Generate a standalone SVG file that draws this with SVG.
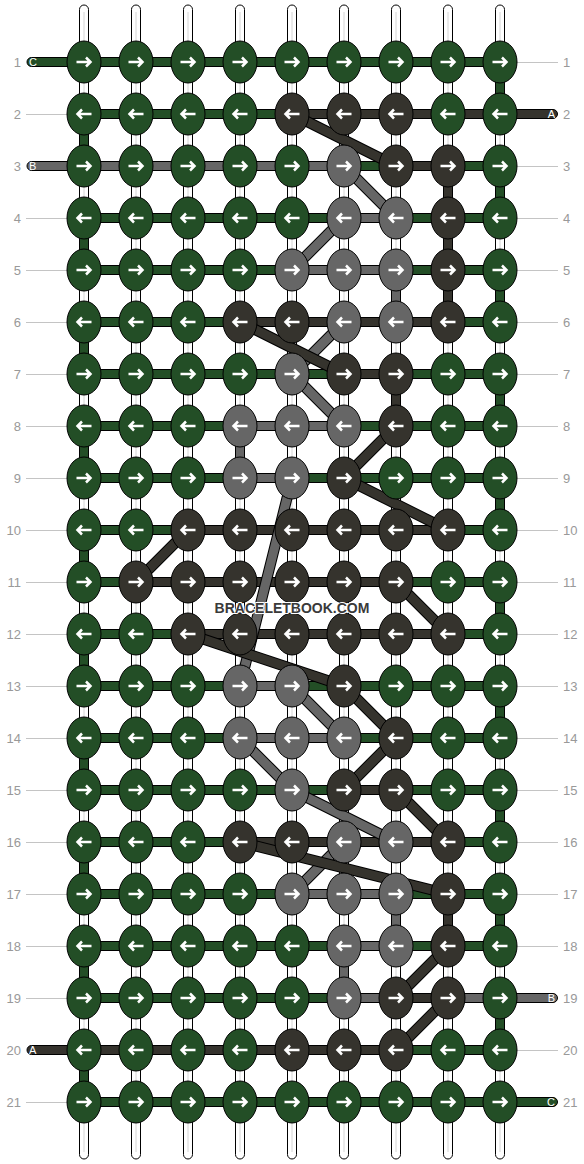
<svg xmlns="http://www.w3.org/2000/svg" width="584" height="1164" viewBox="0 0 584 1164">
<style>
.g{fill:#234e26}.d{fill:#35332d}.l{fill:#666}
.b rect,.b path{stroke:#000;stroke-width:1}
.w{fill:#fff;stroke:#000;stroke-width:1}
.wl{stroke:#d4d4d4;stroke-width:1}
.o{stroke:#000;stroke-width:11}
.dg{stroke:#35332d;stroke-width:9}
.lg{stroke:#666;stroke-width:9}
.n ellipse{stroke:#000;stroke-width:1}
.num{font-family:"Liberation Sans",Arial,sans-serif;font-size:13px;fill:#999}
.lab{font-family:"Liberation Sans",Arial,sans-serif;font-size:11px;fill:#fff}
.ln{stroke:#c4c4c4;stroke-width:1}
.wm{font-family:"Liberation Sans",Arial,sans-serif;font-size:14px;font-weight:bold;fill:#3a3a3a;stroke:#fff;stroke-width:2;paint-order:stroke;stroke-linejoin:round}
</style>
<defs>
<path id="ar" d="M-7.5,0H6.5M2,-4.5L6.5,0L2,4.5" fill="none" stroke="#fff" stroke-width="2.5"/>
<path id="al" d="M7.5,0H-6.5M-2,-4.5L-6.5,0L-2,4.5" fill="none" stroke="#fff" stroke-width="2.5"/>
</defs>
<rect width="584" height="1164" fill="#fff"/>
<g id="labels">
<text class="num" text-anchor="end" x="21" y="66.5">1</text>
<text class="num" text-anchor="end" x="21" y="118.5">2</text>
<text class="num" text-anchor="end" x="21" y="170.5">3</text>
<text class="num" text-anchor="end" x="21" y="222.5">4</text>
<text class="num" text-anchor="end" x="21" y="274.5">5</text>
<text class="num" text-anchor="end" x="21" y="326.5">6</text>
<text class="num" text-anchor="end" x="21" y="378.5">7</text>
<text class="num" text-anchor="end" x="21" y="430.5">8</text>
<text class="num" text-anchor="end" x="21" y="482.5">9</text>
<text class="num" text-anchor="end" x="21" y="534.5">10</text>
<text class="num" text-anchor="end" x="21" y="586.5">11</text>
<text class="num" text-anchor="end" x="21" y="638.5">12</text>
<text class="num" text-anchor="end" x="21" y="690.5">13</text>
<text class="num" text-anchor="end" x="21" y="742.5">14</text>
<text class="num" text-anchor="end" x="21" y="794.5">15</text>
<text class="num" text-anchor="end" x="21" y="846.5">16</text>
<text class="num" text-anchor="end" x="21" y="898.5">17</text>
<text class="num" text-anchor="end" x="21" y="950.5">18</text>
<text class="num" text-anchor="end" x="21" y="1002.5">19</text>
<text class="num" text-anchor="end" x="21" y="1054.5">20</text>
<text class="num" text-anchor="end" x="21" y="1106.5">21</text>
<text class="num" x="563" y="66.5">1</text>
<text class="num" x="563" y="118.5">2</text>
<text class="num" x="563" y="170.5">3</text>
<text class="num" x="563" y="222.5">4</text>
<text class="num" x="563" y="274.5">5</text>
<text class="num" x="563" y="326.5">6</text>
<text class="num" x="563" y="378.5">7</text>
<text class="num" x="563" y="430.5">8</text>
<text class="num" x="563" y="482.5">9</text>
<text class="num" x="563" y="534.5">10</text>
<text class="num" x="563" y="586.5">11</text>
<text class="num" x="563" y="638.5">12</text>
<text class="num" x="563" y="690.5">13</text>
<text class="num" x="563" y="742.5">14</text>
<text class="num" x="563" y="794.5">15</text>
<text class="num" x="563" y="846.5">16</text>
<text class="num" x="563" y="898.5">17</text>
<text class="num" x="563" y="950.5">18</text>
<text class="num" x="563" y="1002.5">19</text>
<text class="num" x="563" y="1054.5">20</text>
<text class="num" x="563" y="1106.5">21</text>
</g>
<g id="connectors">
<g id="guide-lines">
<path class="ln" d="M26,114.5H84M26,218.5H84M26,270.5H84M26,322.5H84M26,374.5H84M26,426.5H84M26,478.5H84M26,530.5H84M26,582.5H84M26,634.5H84M26,686.5H84M26,738.5H84M26,790.5H84M26,842.5H84M26,894.5H84M26,946.5H84M26,998.5H84M26,1102.5H84"/>
<path class="ln" d="M500,62.5H558M500,166.5H558M500,218.5H558M500,270.5H558M500,322.5H558M500,374.5H558M500,426.5H558M500,478.5H558M500,530.5H558M500,582.5H558M500,634.5H558M500,686.5H558M500,738.5H558M500,790.5H558M500,842.5H558M500,894.5H558M500,946.5H558M500,1050.5H558"/>
</g>
<g id="warps">
<rect class="w" x="79.5" y="5" width="9" height="1154" rx="4.5"/>
<rect class="w" x="131.5" y="5" width="9" height="1154" rx="4.5"/>
<rect class="w" x="183.5" y="5" width="9" height="1154" rx="4.5"/>
<rect class="w" x="235.5" y="5" width="9" height="1154" rx="4.5"/>
<rect class="w" x="287.5" y="5" width="9" height="1154" rx="4.5"/>
<rect class="w" x="339.5" y="5" width="9" height="1154" rx="4.5"/>
<rect class="w" x="391.5" y="5" width="9" height="1154" rx="4.5"/>
<rect class="w" x="443.5" y="5" width="9" height="1154" rx="4.5"/>
<rect class="w" x="495.5" y="5" width="9" height="1154" rx="4.5"/>
<path class="wl" d="M84,12V1152M136,12V1152M188,12V1152M240,12V1152M292,12V1152M344,12V1152M396,12V1152M448,12V1152M500,12V1152"/>
</g>
<g id="vertical-segments" class="b">
<rect class="g" x="495.5" y="62" width="9" height="52"/>
<rect class="g" x="495.5" y="166" width="9" height="52"/>
<rect class="g" x="495.5" y="270" width="9" height="52"/>
<rect class="g" x="495.5" y="374" width="9" height="52"/>
<rect class="g" x="495.5" y="478" width="9" height="52"/>
<rect class="g" x="495.5" y="582" width="9" height="52"/>
<rect class="g" x="495.5" y="686" width="9" height="52"/>
<rect class="g" x="495.5" y="790" width="9" height="52"/>
<rect class="g" x="495.5" y="894" width="9" height="52"/>
<rect class="g" x="495.5" y="998" width="9" height="52"/>
<rect class="g" x="79.5" y="114" width="9" height="52"/>
<rect class="g" x="79.5" y="218" width="9" height="52"/>
<rect class="g" x="79.5" y="322" width="9" height="52"/>
<rect class="g" x="79.5" y="426" width="9" height="52"/>
<rect class="g" x="79.5" y="530" width="9" height="52"/>
<rect class="g" x="79.5" y="634" width="9" height="52"/>
<rect class="g" x="79.5" y="738" width="9" height="52"/>
<rect class="g" x="79.5" y="842" width="9" height="52"/>
<rect class="g" x="79.5" y="946" width="9" height="52"/>
<rect class="g" x="79.5" y="1050" width="9" height="52"/>
<rect class="d" x="443.5" y="166" width="9" height="156"/>
<rect class="d" x="443.5" y="894" width="9" height="52"/>
<rect class="l" x="391.5" y="270" width="9" height="52"/>
<rect class="l" x="391.5" y="894" width="9" height="52"/>
<rect class="d" x="391.5" y="374" width="9" height="52"/>
<rect class="l" x="235.5" y="426" width="9" height="52"/>
<rect class="l" x="339.5" y="946" width="9" height="52"/>
</g>
<g id="rows" class="b">
<path class="g" d="M84,57.5H31.5A4.5,4.5 0 0 0 31.5,66.5H84Z"/>
<path class="l" d="M84,161.5H31.5A4.5,4.5 0 0 0 31.5,170.5H84Z"/>
<path class="d" d="M84,1045.5H31.5A4.5,4.5 0 0 0 31.5,1054.5H84Z"/>
<path class="d" d="M500,109.5H553A4.5,4.5 0 0 1 553,118.5H500Z"/>
<path class="l" d="M500,993.5H553A4.5,4.5 0 0 1 553,1002.5H500Z"/>
<path class="g" d="M500,1097.5H553A4.5,4.5 0 0 1 553,1106.5H500Z"/>
<rect class="g" x="84" y="57.5" width="416" height="9"/>
<rect class="g" x="84" y="109.5" width="208" height="9"/>
<rect class="d" x="292" y="109.5" width="208" height="9"/>
<rect class="l" x="84" y="161.5" width="260" height="9"/>
<rect class="g" x="344" y="161.5" width="52" height="9"/>
<rect class="d" x="396" y="161.5" width="52" height="9"/>
<rect class="g" x="448" y="161.5" width="52" height="9"/>
<rect class="g" x="84" y="213.5" width="260" height="9"/>
<rect class="l" x="344" y="213.5" width="52" height="9"/>
<rect class="g" x="396" y="213.5" width="104" height="9"/>
<rect class="g" x="84" y="265.5" width="208" height="9"/>
<rect class="l" x="292" y="265.5" width="104" height="9"/>
<rect class="g" x="396" y="265.5" width="104" height="9"/>
<rect class="g" x="84" y="317.5" width="156" height="9"/>
<rect class="d" x="240" y="317.5" width="208" height="9"/>
<rect class="g" x="448" y="317.5" width="52" height="9"/>
<rect class="g" x="84" y="369.5" width="260" height="9"/>
<rect class="d" x="344" y="369.5" width="52" height="9"/>
<rect class="g" x="396" y="369.5" width="104" height="9"/>
<rect class="g" x="84" y="421.5" width="156" height="9"/>
<rect class="l" x="240" y="421.5" width="104" height="9"/>
<rect class="g" x="344" y="421.5" width="156" height="9"/>
<rect class="g" x="84" y="473.5" width="156" height="9"/>
<rect class="l" x="240" y="473.5" width="52" height="9"/>
<rect class="g" x="292" y="473.5" width="208" height="9"/>
<rect class="g" x="84" y="525.5" width="104" height="9"/>
<rect class="d" x="188" y="525.5" width="260" height="9"/>
<rect class="g" x="448" y="525.5" width="52" height="9"/>
<rect class="g" x="84" y="577.5" width="52" height="9"/>
<rect class="d" x="136" y="577.5" width="260" height="9"/>
<rect class="g" x="396" y="577.5" width="104" height="9"/>
<rect class="g" x="84" y="629.5" width="104" height="9"/>
<rect class="d" x="188" y="629.5" width="260" height="9"/>
<rect class="g" x="448" y="629.5" width="52" height="9"/>
<rect class="g" x="84" y="681.5" width="156" height="9"/>
<rect class="l" x="240" y="681.5" width="52" height="9"/>
<rect class="g" x="292" y="681.5" width="208" height="9"/>
<rect class="g" x="84" y="733.5" width="156" height="9"/>
<rect class="l" x="240" y="733.5" width="104" height="9"/>
<rect class="g" x="344" y="733.5" width="156" height="9"/>
<rect class="g" x="84" y="785.5" width="260" height="9"/>
<rect class="d" x="344" y="785.5" width="52" height="9"/>
<rect class="g" x="396" y="785.5" width="104" height="9"/>
<rect class="g" x="84" y="837.5" width="156" height="9"/>
<rect class="d" x="240" y="837.5" width="208" height="9"/>
<rect class="g" x="448" y="837.5" width="52" height="9"/>
<rect class="g" x="84" y="889.5" width="208" height="9"/>
<rect class="l" x="292" y="889.5" width="104" height="9"/>
<rect class="g" x="396" y="889.5" width="104" height="9"/>
<rect class="g" x="84" y="941.5" width="260" height="9"/>
<rect class="l" x="344" y="941.5" width="52" height="9"/>
<rect class="g" x="396" y="941.5" width="104" height="9"/>
<rect class="g" x="84" y="993.5" width="260" height="9"/>
<rect class="l" x="344" y="993.5" width="52" height="9"/>
<rect class="d" x="396" y="993.5" width="52" height="9"/>
<rect class="l" x="448" y="993.5" width="52" height="9"/>
<rect class="d" x="84" y="1045.5" width="312" height="9"/>
<rect class="g" x="396" y="1045.5" width="104" height="9"/>
<rect class="g" x="84" y="1097.5" width="416" height="9"/>
</g>
<g id="tail-labels">
<text class="lab" x="29" y="66">C</text>
<text class="lab" x="29" y="170">B</text>
<text class="lab" x="29" y="1054">A</text>
<text class="lab" text-anchor="end" x="555" y="118">A</text>
<text class="lab" text-anchor="end" x="555" y="1002">B</text>
<text class="lab" text-anchor="end" x="555" y="1106">C</text>
</g>
<g id="diagonals">
<line class="o" x1="344" y1="166" x2="396" y2="218"/><line class="lg" x1="344" y1="166" x2="396" y2="218"/>
<line class="o" x1="344" y1="218" x2="292" y2="270"/><line class="lg" x1="344" y1="218" x2="292" y2="270"/>
<line class="o" x1="344" y1="322" x2="292" y2="374"/><line class="lg" x1="344" y1="322" x2="292" y2="374"/>
<line class="o" x1="292" y1="374" x2="344" y2="426"/><line class="lg" x1="292" y1="374" x2="344" y2="426"/>
<line class="o" x1="292" y1="478" x2="240" y2="686"/><line class="lg" x1="292" y1="478" x2="240" y2="686"/>
<line class="o" x1="292" y1="686" x2="344" y2="738"/><line class="lg" x1="292" y1="686" x2="344" y2="738"/>
<line class="o" x1="240" y1="738" x2="292" y2="790"/><line class="lg" x1="240" y1="738" x2="292" y2="790"/>
<line class="o" x1="292" y1="790" x2="396" y2="842"/><line class="lg" x1="292" y1="790" x2="396" y2="842"/>
<line class="o" x1="344" y1="842" x2="292" y2="894"/><line class="lg" x1="344" y1="842" x2="292" y2="894"/>
<line class="o" x1="292" y1="114" x2="396" y2="166"/><line class="dg" x1="292" y1="114" x2="396" y2="166"/>
<line class="o" x1="240" y1="322" x2="344" y2="374"/><line class="dg" x1="240" y1="322" x2="344" y2="374"/>
<line class="o" x1="396" y1="426" x2="344" y2="478"/><line class="dg" x1="396" y1="426" x2="344" y2="478"/>
<line class="o" x1="344" y1="478" x2="448" y2="530"/><line class="dg" x1="344" y1="478" x2="448" y2="530"/>
<line class="o" x1="136" y1="582" x2="188" y2="530"/><line class="dg" x1="136" y1="582" x2="188" y2="530"/>
<line class="o" x1="396" y1="582" x2="448" y2="634"/><line class="dg" x1="396" y1="582" x2="448" y2="634"/>
<line class="o" x1="188" y1="634" x2="344" y2="686"/><line class="dg" x1="188" y1="634" x2="344" y2="686"/>
<line class="o" x1="344" y1="686" x2="396" y2="738"/><line class="dg" x1="344" y1="686" x2="396" y2="738"/>
<line class="o" x1="396" y1="738" x2="344" y2="790"/><line class="dg" x1="396" y1="738" x2="344" y2="790"/>
<line class="o" x1="396" y1="790" x2="448" y2="842"/><line class="dg" x1="396" y1="790" x2="448" y2="842"/>
<line class="o" x1="240" y1="842" x2="448" y2="894"/><line class="dg" x1="240" y1="842" x2="448" y2="894"/>
<line class="o" x1="448" y1="946" x2="396" y2="998"/><line class="dg" x1="448" y1="946" x2="396" y2="998"/>
<line class="o" x1="448" y1="998" x2="396" y2="1050"/><line class="dg" x1="448" y1="998" x2="396" y2="1050"/>
</g>
</g>
<g id="knots" class="n">
<g id="k1-1" transform="translate(84,62)"><ellipse class="g" rx="17" ry="21"/><use href="#ar"/></g>
<g id="k1-2" transform="translate(136,62)"><ellipse class="g" rx="17" ry="21"/><use href="#ar"/></g>
<g id="k1-3" transform="translate(188,62)"><ellipse class="g" rx="17" ry="21"/><use href="#ar"/></g>
<g id="k1-4" transform="translate(240,62)"><ellipse class="g" rx="17" ry="21"/><use href="#ar"/></g>
<g id="k1-5" transform="translate(292,62)"><ellipse class="g" rx="17" ry="21"/><use href="#ar"/></g>
<g id="k1-6" transform="translate(344,62)"><ellipse class="g" rx="17" ry="21"/><use href="#ar"/></g>
<g id="k1-7" transform="translate(396,62)"><ellipse class="g" rx="17" ry="21"/><use href="#ar"/></g>
<g id="k1-8" transform="translate(448,62)"><ellipse class="g" rx="17" ry="21"/><use href="#ar"/></g>
<g id="k1-9" transform="translate(500,62)"><ellipse class="g" rx="17" ry="21"/><use href="#ar"/></g>
<g id="k2-1" transform="translate(84,114)"><ellipse class="g" rx="17" ry="21"/><use href="#al"/></g>
<g id="k2-2" transform="translate(136,114)"><ellipse class="g" rx="17" ry="21"/><use href="#al"/></g>
<g id="k2-3" transform="translate(188,114)"><ellipse class="g" rx="17" ry="21"/><use href="#al"/></g>
<g id="k2-4" transform="translate(240,114)"><ellipse class="g" rx="17" ry="21"/><use href="#al"/></g>
<g id="k2-5" transform="translate(292,114)"><ellipse class="d" rx="17" ry="21"/><use href="#al"/></g>
<g id="k2-6" transform="translate(344,114)"><ellipse class="d" rx="17" ry="21"/><use href="#al"/></g>
<g id="k2-7" transform="translate(396,114)"><ellipse class="d" rx="17" ry="21"/><use href="#al"/></g>
<g id="k2-8" transform="translate(448,114)"><ellipse class="g" rx="17" ry="21"/><use href="#al"/></g>
<g id="k2-9" transform="translate(500,114)"><ellipse class="g" rx="17" ry="21"/><use href="#al"/></g>
<g id="k3-1" transform="translate(84,166)"><ellipse class="g" rx="17" ry="21"/><use href="#ar"/></g>
<g id="k3-2" transform="translate(136,166)"><ellipse class="g" rx="17" ry="21"/><use href="#ar"/></g>
<g id="k3-3" transform="translate(188,166)"><ellipse class="g" rx="17" ry="21"/><use href="#ar"/></g>
<g id="k3-4" transform="translate(240,166)"><ellipse class="g" rx="17" ry="21"/><use href="#ar"/></g>
<g id="k3-5" transform="translate(292,166)"><ellipse class="g" rx="17" ry="21"/><use href="#ar"/></g>
<g id="k3-6" transform="translate(344,166)"><ellipse class="l" rx="17" ry="21"/><use href="#ar"/></g>
<g id="k3-7" transform="translate(396,166)"><ellipse class="d" rx="17" ry="21"/><use href="#ar"/></g>
<g id="k3-8" transform="translate(448,166)"><ellipse class="d" rx="17" ry="21"/><use href="#ar"/></g>
<g id="k3-9" transform="translate(500,166)"><ellipse class="g" rx="17" ry="21"/><use href="#ar"/></g>
<g id="k4-1" transform="translate(84,218)"><ellipse class="g" rx="17" ry="21"/><use href="#al"/></g>
<g id="k4-2" transform="translate(136,218)"><ellipse class="g" rx="17" ry="21"/><use href="#al"/></g>
<g id="k4-3" transform="translate(188,218)"><ellipse class="g" rx="17" ry="21"/><use href="#al"/></g>
<g id="k4-4" transform="translate(240,218)"><ellipse class="g" rx="17" ry="21"/><use href="#al"/></g>
<g id="k4-5" transform="translate(292,218)"><ellipse class="g" rx="17" ry="21"/><use href="#al"/></g>
<g id="k4-6" transform="translate(344,218)"><ellipse class="l" rx="17" ry="21"/><use href="#al"/></g>
<g id="k4-7" transform="translate(396,218)"><ellipse class="l" rx="17" ry="21"/><use href="#al"/></g>
<g id="k4-8" transform="translate(448,218)"><ellipse class="d" rx="17" ry="21"/><use href="#al"/></g>
<g id="k4-9" transform="translate(500,218)"><ellipse class="g" rx="17" ry="21"/><use href="#al"/></g>
<g id="k5-1" transform="translate(84,270)"><ellipse class="g" rx="17" ry="21"/><use href="#ar"/></g>
<g id="k5-2" transform="translate(136,270)"><ellipse class="g" rx="17" ry="21"/><use href="#ar"/></g>
<g id="k5-3" transform="translate(188,270)"><ellipse class="g" rx="17" ry="21"/><use href="#ar"/></g>
<g id="k5-4" transform="translate(240,270)"><ellipse class="g" rx="17" ry="21"/><use href="#ar"/></g>
<g id="k5-5" transform="translate(292,270)"><ellipse class="l" rx="17" ry="21"/><use href="#ar"/></g>
<g id="k5-6" transform="translate(344,270)"><ellipse class="l" rx="17" ry="21"/><use href="#ar"/></g>
<g id="k5-7" transform="translate(396,270)"><ellipse class="l" rx="17" ry="21"/><use href="#ar"/></g>
<g id="k5-8" transform="translate(448,270)"><ellipse class="d" rx="17" ry="21"/><use href="#ar"/></g>
<g id="k5-9" transform="translate(500,270)"><ellipse class="g" rx="17" ry="21"/><use href="#ar"/></g>
<g id="k6-1" transform="translate(84,322)"><ellipse class="g" rx="17" ry="21"/><use href="#al"/></g>
<g id="k6-2" transform="translate(136,322)"><ellipse class="g" rx="17" ry="21"/><use href="#al"/></g>
<g id="k6-3" transform="translate(188,322)"><ellipse class="g" rx="17" ry="21"/><use href="#al"/></g>
<g id="k6-4" transform="translate(240,322)"><ellipse class="d" rx="17" ry="21"/><use href="#al"/></g>
<g id="k6-5" transform="translate(292,322)"><ellipse class="d" rx="17" ry="21"/><use href="#al"/></g>
<g id="k6-6" transform="translate(344,322)"><ellipse class="l" rx="17" ry="21"/><use href="#al"/></g>
<g id="k6-7" transform="translate(396,322)"><ellipse class="l" rx="17" ry="21"/><use href="#al"/></g>
<g id="k6-8" transform="translate(448,322)"><ellipse class="d" rx="17" ry="21"/><use href="#al"/></g>
<g id="k6-9" transform="translate(500,322)"><ellipse class="g" rx="17" ry="21"/><use href="#al"/></g>
<g id="k7-1" transform="translate(84,374)"><ellipse class="g" rx="17" ry="21"/><use href="#ar"/></g>
<g id="k7-2" transform="translate(136,374)"><ellipse class="g" rx="17" ry="21"/><use href="#ar"/></g>
<g id="k7-3" transform="translate(188,374)"><ellipse class="g" rx="17" ry="21"/><use href="#ar"/></g>
<g id="k7-4" transform="translate(240,374)"><ellipse class="g" rx="17" ry="21"/><use href="#ar"/></g>
<g id="k7-5" transform="translate(292,374)"><ellipse class="l" rx="17" ry="21"/><use href="#ar"/></g>
<g id="k7-6" transform="translate(344,374)"><ellipse class="d" rx="17" ry="21"/><use href="#ar"/></g>
<g id="k7-7" transform="translate(396,374)"><ellipse class="d" rx="17" ry="21"/><use href="#ar"/></g>
<g id="k7-8" transform="translate(448,374)"><ellipse class="g" rx="17" ry="21"/><use href="#ar"/></g>
<g id="k7-9" transform="translate(500,374)"><ellipse class="g" rx="17" ry="21"/><use href="#ar"/></g>
<g id="k8-1" transform="translate(84,426)"><ellipse class="g" rx="17" ry="21"/><use href="#al"/></g>
<g id="k8-2" transform="translate(136,426)"><ellipse class="g" rx="17" ry="21"/><use href="#al"/></g>
<g id="k8-3" transform="translate(188,426)"><ellipse class="g" rx="17" ry="21"/><use href="#al"/></g>
<g id="k8-4" transform="translate(240,426)"><ellipse class="l" rx="17" ry="21"/><use href="#al"/></g>
<g id="k8-5" transform="translate(292,426)"><ellipse class="l" rx="17" ry="21"/><use href="#al"/></g>
<g id="k8-6" transform="translate(344,426)"><ellipse class="l" rx="17" ry="21"/><use href="#al"/></g>
<g id="k8-7" transform="translate(396,426)"><ellipse class="d" rx="17" ry="21"/><use href="#al"/></g>
<g id="k8-8" transform="translate(448,426)"><ellipse class="g" rx="17" ry="21"/><use href="#al"/></g>
<g id="k8-9" transform="translate(500,426)"><ellipse class="g" rx="17" ry="21"/><use href="#al"/></g>
<g id="k9-1" transform="translate(84,478)"><ellipse class="g" rx="17" ry="21"/><use href="#ar"/></g>
<g id="k9-2" transform="translate(136,478)"><ellipse class="g" rx="17" ry="21"/><use href="#ar"/></g>
<g id="k9-3" transform="translate(188,478)"><ellipse class="g" rx="17" ry="21"/><use href="#ar"/></g>
<g id="k9-4" transform="translate(240,478)"><ellipse class="l" rx="17" ry="21"/><use href="#ar"/></g>
<g id="k9-5" transform="translate(292,478)"><ellipse class="l" rx="17" ry="21"/><use href="#ar"/></g>
<g id="k9-6" transform="translate(344,478)"><ellipse class="d" rx="17" ry="21"/><use href="#ar"/></g>
<g id="k9-7" transform="translate(396,478)"><ellipse class="g" rx="17" ry="21"/><use href="#ar"/></g>
<g id="k9-8" transform="translate(448,478)"><ellipse class="g" rx="17" ry="21"/><use href="#ar"/></g>
<g id="k9-9" transform="translate(500,478)"><ellipse class="g" rx="17" ry="21"/><use href="#ar"/></g>
<g id="k10-1" transform="translate(84,530)"><ellipse class="g" rx="17" ry="21"/><use href="#al"/></g>
<g id="k10-2" transform="translate(136,530)"><ellipse class="g" rx="17" ry="21"/><use href="#al"/></g>
<g id="k10-3" transform="translate(188,530)"><ellipse class="d" rx="17" ry="21"/><use href="#al"/></g>
<g id="k10-4" transform="translate(240,530)"><ellipse class="d" rx="17" ry="21"/><use href="#al"/></g>
<g id="k10-5" transform="translate(292,530)"><ellipse class="d" rx="17" ry="21"/><use href="#al"/></g>
<g id="k10-6" transform="translate(344,530)"><ellipse class="d" rx="17" ry="21"/><use href="#al"/></g>
<g id="k10-7" transform="translate(396,530)"><ellipse class="d" rx="17" ry="21"/><use href="#al"/></g>
<g id="k10-8" transform="translate(448,530)"><ellipse class="d" rx="17" ry="21"/><use href="#al"/></g>
<g id="k10-9" transform="translate(500,530)"><ellipse class="g" rx="17" ry="21"/><use href="#al"/></g>
<g id="k11-1" transform="translate(84,582)"><ellipse class="g" rx="17" ry="21"/><use href="#ar"/></g>
<g id="k11-2" transform="translate(136,582)"><ellipse class="d" rx="17" ry="21"/><use href="#ar"/></g>
<g id="k11-3" transform="translate(188,582)"><ellipse class="d" rx="17" ry="21"/><use href="#ar"/></g>
<g id="k11-4" transform="translate(240,582)"><ellipse class="d" rx="17" ry="21"/><use href="#ar"/></g>
<g id="k11-5" transform="translate(292,582)"><ellipse class="d" rx="17" ry="21"/><use href="#ar"/></g>
<g id="k11-6" transform="translate(344,582)"><ellipse class="d" rx="17" ry="21"/><use href="#ar"/></g>
<g id="k11-7" transform="translate(396,582)"><ellipse class="d" rx="17" ry="21"/><use href="#ar"/></g>
<g id="k11-8" transform="translate(448,582)"><ellipse class="g" rx="17" ry="21"/><use href="#ar"/></g>
<g id="k11-9" transform="translate(500,582)"><ellipse class="g" rx="17" ry="21"/><use href="#ar"/></g>
<g id="k12-1" transform="translate(84,634)"><ellipse class="g" rx="17" ry="21"/><use href="#al"/></g>
<g id="k12-2" transform="translate(136,634)"><ellipse class="g" rx="17" ry="21"/><use href="#al"/></g>
<g id="k12-3" transform="translate(188,634)"><ellipse class="d" rx="17" ry="21"/><use href="#al"/></g>
<g id="k12-4" transform="translate(240,634)"><ellipse class="d" rx="17" ry="21"/><use href="#al"/></g>
<g id="k12-5" transform="translate(292,634)"><ellipse class="d" rx="17" ry="21"/><use href="#al"/></g>
<g id="k12-6" transform="translate(344,634)"><ellipse class="d" rx="17" ry="21"/><use href="#al"/></g>
<g id="k12-7" transform="translate(396,634)"><ellipse class="d" rx="17" ry="21"/><use href="#al"/></g>
<g id="k12-8" transform="translate(448,634)"><ellipse class="d" rx="17" ry="21"/><use href="#al"/></g>
<g id="k12-9" transform="translate(500,634)"><ellipse class="g" rx="17" ry="21"/><use href="#al"/></g>
<g id="k13-1" transform="translate(84,686)"><ellipse class="g" rx="17" ry="21"/><use href="#ar"/></g>
<g id="k13-2" transform="translate(136,686)"><ellipse class="g" rx="17" ry="21"/><use href="#ar"/></g>
<g id="k13-3" transform="translate(188,686)"><ellipse class="g" rx="17" ry="21"/><use href="#ar"/></g>
<g id="k13-4" transform="translate(240,686)"><ellipse class="l" rx="17" ry="21"/><use href="#ar"/></g>
<g id="k13-5" transform="translate(292,686)"><ellipse class="l" rx="17" ry="21"/><use href="#ar"/></g>
<g id="k13-6" transform="translate(344,686)"><ellipse class="d" rx="17" ry="21"/><use href="#ar"/></g>
<g id="k13-7" transform="translate(396,686)"><ellipse class="g" rx="17" ry="21"/><use href="#ar"/></g>
<g id="k13-8" transform="translate(448,686)"><ellipse class="g" rx="17" ry="21"/><use href="#ar"/></g>
<g id="k13-9" transform="translate(500,686)"><ellipse class="g" rx="17" ry="21"/><use href="#ar"/></g>
<g id="k14-1" transform="translate(84,738)"><ellipse class="g" rx="17" ry="21"/><use href="#al"/></g>
<g id="k14-2" transform="translate(136,738)"><ellipse class="g" rx="17" ry="21"/><use href="#al"/></g>
<g id="k14-3" transform="translate(188,738)"><ellipse class="g" rx="17" ry="21"/><use href="#al"/></g>
<g id="k14-4" transform="translate(240,738)"><ellipse class="l" rx="17" ry="21"/><use href="#al"/></g>
<g id="k14-5" transform="translate(292,738)"><ellipse class="l" rx="17" ry="21"/><use href="#al"/></g>
<g id="k14-6" transform="translate(344,738)"><ellipse class="l" rx="17" ry="21"/><use href="#al"/></g>
<g id="k14-7" transform="translate(396,738)"><ellipse class="d" rx="17" ry="21"/><use href="#al"/></g>
<g id="k14-8" transform="translate(448,738)"><ellipse class="g" rx="17" ry="21"/><use href="#al"/></g>
<g id="k14-9" transform="translate(500,738)"><ellipse class="g" rx="17" ry="21"/><use href="#al"/></g>
<g id="k15-1" transform="translate(84,790)"><ellipse class="g" rx="17" ry="21"/><use href="#ar"/></g>
<g id="k15-2" transform="translate(136,790)"><ellipse class="g" rx="17" ry="21"/><use href="#ar"/></g>
<g id="k15-3" transform="translate(188,790)"><ellipse class="g" rx="17" ry="21"/><use href="#ar"/></g>
<g id="k15-4" transform="translate(240,790)"><ellipse class="g" rx="17" ry="21"/><use href="#ar"/></g>
<g id="k15-5" transform="translate(292,790)"><ellipse class="l" rx="17" ry="21"/><use href="#ar"/></g>
<g id="k15-6" transform="translate(344,790)"><ellipse class="d" rx="17" ry="21"/><use href="#ar"/></g>
<g id="k15-7" transform="translate(396,790)"><ellipse class="d" rx="17" ry="21"/><use href="#ar"/></g>
<g id="k15-8" transform="translate(448,790)"><ellipse class="g" rx="17" ry="21"/><use href="#ar"/></g>
<g id="k15-9" transform="translate(500,790)"><ellipse class="g" rx="17" ry="21"/><use href="#ar"/></g>
<g id="k16-1" transform="translate(84,842)"><ellipse class="g" rx="17" ry="21"/><use href="#al"/></g>
<g id="k16-2" transform="translate(136,842)"><ellipse class="g" rx="17" ry="21"/><use href="#al"/></g>
<g id="k16-3" transform="translate(188,842)"><ellipse class="g" rx="17" ry="21"/><use href="#al"/></g>
<g id="k16-4" transform="translate(240,842)"><ellipse class="d" rx="17" ry="21"/><use href="#al"/></g>
<g id="k16-5" transform="translate(292,842)"><ellipse class="d" rx="17" ry="21"/><use href="#al"/></g>
<g id="k16-6" transform="translate(344,842)"><ellipse class="l" rx="17" ry="21"/><use href="#al"/></g>
<g id="k16-7" transform="translate(396,842)"><ellipse class="l" rx="17" ry="21"/><use href="#al"/></g>
<g id="k16-8" transform="translate(448,842)"><ellipse class="d" rx="17" ry="21"/><use href="#al"/></g>
<g id="k16-9" transform="translate(500,842)"><ellipse class="g" rx="17" ry="21"/><use href="#al"/></g>
<g id="k17-1" transform="translate(84,894)"><ellipse class="g" rx="17" ry="21"/><use href="#ar"/></g>
<g id="k17-2" transform="translate(136,894)"><ellipse class="g" rx="17" ry="21"/><use href="#ar"/></g>
<g id="k17-3" transform="translate(188,894)"><ellipse class="g" rx="17" ry="21"/><use href="#ar"/></g>
<g id="k17-4" transform="translate(240,894)"><ellipse class="g" rx="17" ry="21"/><use href="#ar"/></g>
<g id="k17-5" transform="translate(292,894)"><ellipse class="l" rx="17" ry="21"/><use href="#ar"/></g>
<g id="k17-6" transform="translate(344,894)"><ellipse class="l" rx="17" ry="21"/><use href="#ar"/></g>
<g id="k17-7" transform="translate(396,894)"><ellipse class="l" rx="17" ry="21"/><use href="#ar"/></g>
<g id="k17-8" transform="translate(448,894)"><ellipse class="d" rx="17" ry="21"/><use href="#ar"/></g>
<g id="k17-9" transform="translate(500,894)"><ellipse class="g" rx="17" ry="21"/><use href="#ar"/></g>
<g id="k18-1" transform="translate(84,946)"><ellipse class="g" rx="17" ry="21"/><use href="#al"/></g>
<g id="k18-2" transform="translate(136,946)"><ellipse class="g" rx="17" ry="21"/><use href="#al"/></g>
<g id="k18-3" transform="translate(188,946)"><ellipse class="g" rx="17" ry="21"/><use href="#al"/></g>
<g id="k18-4" transform="translate(240,946)"><ellipse class="g" rx="17" ry="21"/><use href="#al"/></g>
<g id="k18-5" transform="translate(292,946)"><ellipse class="g" rx="17" ry="21"/><use href="#al"/></g>
<g id="k18-6" transform="translate(344,946)"><ellipse class="l" rx="17" ry="21"/><use href="#al"/></g>
<g id="k18-7" transform="translate(396,946)"><ellipse class="l" rx="17" ry="21"/><use href="#al"/></g>
<g id="k18-8" transform="translate(448,946)"><ellipse class="d" rx="17" ry="21"/><use href="#al"/></g>
<g id="k18-9" transform="translate(500,946)"><ellipse class="g" rx="17" ry="21"/><use href="#al"/></g>
<g id="k19-1" transform="translate(84,998)"><ellipse class="g" rx="17" ry="21"/><use href="#ar"/></g>
<g id="k19-2" transform="translate(136,998)"><ellipse class="g" rx="17" ry="21"/><use href="#ar"/></g>
<g id="k19-3" transform="translate(188,998)"><ellipse class="g" rx="17" ry="21"/><use href="#ar"/></g>
<g id="k19-4" transform="translate(240,998)"><ellipse class="g" rx="17" ry="21"/><use href="#ar"/></g>
<g id="k19-5" transform="translate(292,998)"><ellipse class="g" rx="17" ry="21"/><use href="#ar"/></g>
<g id="k19-6" transform="translate(344,998)"><ellipse class="l" rx="17" ry="21"/><use href="#ar"/></g>
<g id="k19-7" transform="translate(396,998)"><ellipse class="d" rx="17" ry="21"/><use href="#ar"/></g>
<g id="k19-8" transform="translate(448,998)"><ellipse class="d" rx="17" ry="21"/><use href="#ar"/></g>
<g id="k19-9" transform="translate(500,998)"><ellipse class="g" rx="17" ry="21"/><use href="#ar"/></g>
<g id="k20-1" transform="translate(84,1050)"><ellipse class="g" rx="17" ry="21"/><use href="#al"/></g>
<g id="k20-2" transform="translate(136,1050)"><ellipse class="g" rx="17" ry="21"/><use href="#al"/></g>
<g id="k20-3" transform="translate(188,1050)"><ellipse class="g" rx="17" ry="21"/><use href="#al"/></g>
<g id="k20-4" transform="translate(240,1050)"><ellipse class="g" rx="17" ry="21"/><use href="#al"/></g>
<g id="k20-5" transform="translate(292,1050)"><ellipse class="d" rx="17" ry="21"/><use href="#al"/></g>
<g id="k20-6" transform="translate(344,1050)"><ellipse class="d" rx="17" ry="21"/><use href="#al"/></g>
<g id="k20-7" transform="translate(396,1050)"><ellipse class="d" rx="17" ry="21"/><use href="#al"/></g>
<g id="k20-8" transform="translate(448,1050)"><ellipse class="g" rx="17" ry="21"/><use href="#al"/></g>
<g id="k20-9" transform="translate(500,1050)"><ellipse class="g" rx="17" ry="21"/><use href="#al"/></g>
<g id="k21-1" transform="translate(84,1102)"><ellipse class="g" rx="17" ry="21"/><use href="#ar"/></g>
<g id="k21-2" transform="translate(136,1102)"><ellipse class="g" rx="17" ry="21"/><use href="#ar"/></g>
<g id="k21-3" transform="translate(188,1102)"><ellipse class="g" rx="17" ry="21"/><use href="#ar"/></g>
<g id="k21-4" transform="translate(240,1102)"><ellipse class="g" rx="17" ry="21"/><use href="#ar"/></g>
<g id="k21-5" transform="translate(292,1102)"><ellipse class="g" rx="17" ry="21"/><use href="#ar"/></g>
<g id="k21-6" transform="translate(344,1102)"><ellipse class="g" rx="17" ry="21"/><use href="#ar"/></g>
<g id="k21-7" transform="translate(396,1102)"><ellipse class="g" rx="17" ry="21"/><use href="#ar"/></g>
<g id="k21-8" transform="translate(448,1102)"><ellipse class="g" rx="17" ry="21"/><use href="#ar"/></g>
<g id="k21-9" transform="translate(500,1102)"><ellipse class="g" rx="17" ry="21"/><use href="#ar"/></g>
</g>
<text id="watermark" class="wm" x="292" y="613" text-anchor="middle">BRACELETBOOK.COM</text>
</svg>
